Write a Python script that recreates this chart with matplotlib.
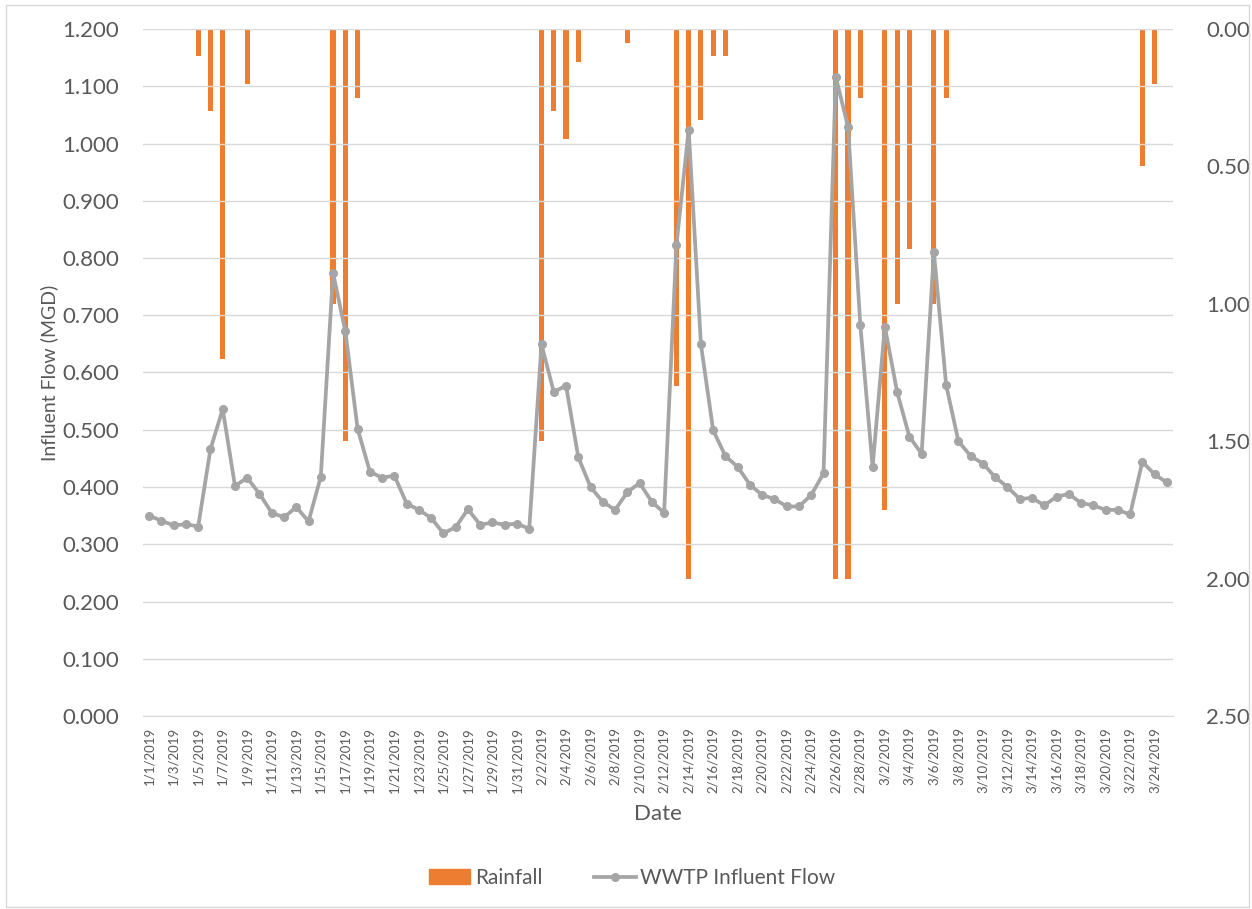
import matplotlib
matplotlib.use("Agg")
import matplotlib.pyplot as plt
import numpy as np
import pandas as pd
from matplotlib.patches import Rectangle
from matplotlib.lines import Line2D

plt.rcParams['font.family'] = ['Lato', 'DejaVu Sans']

dates = pd.date_range("2019-01-01", "2019-03-25", freq="D")
date_labels = [f"{d.month}/{d.day}/{d.year}" for d in dates]

flow = [0.350, 0.341, 0.333, 0.335, 0.331, 0.466, 0.536, 0.402, 0.416, 0.388,
        0.355, 0.347, 0.365, 0.340, 0.418, 0.774, 0.672, 0.502, 0.427, 0.416,
        0.420, 0.371, 0.360, 0.346, 0.319, 0.330, 0.361, 0.334, 0.338, 0.334,
        0.336,
        0.327, 0.649, 0.566, 0.577, 0.452, 0.400, 0.374, 0.360, 0.391, 0.407,
        0.374, 0.355, 0.822, 1.024, 0.649, 0.499, 0.454, 0.435, 0.404, 0.386,
        0.379, 0.366, 0.366, 0.386, 0.424, 1.116, 1.029, 0.683,
        0.435, 0.680, 0.566, 0.488, 0.458, 0.810, 0.578, 0.480, 0.454, 0.441,
        0.417, 0.400, 0.379, 0.381, 0.368, 0.383, 0.388, 0.372, 0.368, 0.360,
        0.360, 0.352, 0.444, 0.422, 0.408]

rain_days = {"1/5/2019": 0.10, "1/6/2019": 0.30, "1/7/2019": 1.20, "1/9/2019": 0.20,
             "1/16/2019": 1.00, "1/17/2019": 1.50, "1/18/2019": 0.25,
             "2/2/2019": 1.50, "2/3/2019": 0.30, "2/4/2019": 0.40, "2/5/2019": 0.12,
             "2/9/2019": 0.05, "2/13/2019": 1.30, "2/14/2019": 2.00, "2/15/2019": 0.33,
             "2/16/2019": 0.10, "2/17/2019": 0.10,
             "2/26/2019": 2.00, "2/27/2019": 2.00, "2/28/2019": 0.25,
             "3/2/2019": 1.75, "3/3/2019": 1.00, "3/4/2019": 0.80, "3/6/2019": 1.00,
             "3/7/2019": 0.25, "3/23/2019": 0.50, "3/24/2019": 0.20}
rainfall = [rain_days.get(lbl, 0.0) for lbl in date_labels]

ORANGE = "#ED7D31"
GRAY = "#A5A5A5"
TXT = "#595959"

fig = plt.figure(figsize=(12.52, 9.09), dpi=100)
ax = fig.add_axes([143/1252, 1 - 716/909, (1173-143)/1252, (716-29)/909])
ax2 = ax.twinx()

x = np.arange(len(dates))
ax2.bar(x, rainfall, width=0.42, color=ORANGE, zorder=2)
ax2.set_ylim(2.5, 0)
ax2.set_yticks(np.arange(0, 2.51, 0.5))
ax2.set_yticklabels([f"{v:.2f}" for v in np.arange(0, 2.51, 0.5)])

ax.plot(x, flow, color=GRAY, lw=2.7, marker='o', markersize=5.5, zorder=3)
ax.set_zorder(ax2.get_zorder() + 1)
ax.patch.set_visible(False)

ax.set_ylim(0, 1.2)
ax.set_yticks(np.arange(0, 1.2001, 0.1))
ax.set_yticklabels([f"{v:.3f}" for v in np.arange(0, 1.2001, 0.1)])
ax.set_xlim(-0.5, len(dates) - 0.5)
ax.set_xticks(x[::2])
ax.set_xticklabels(date_labels[::2], rotation=90, fontsize=9.5, color=TXT)

ax.yaxis.grid(True, color="#D9D9D9", lw=1)
ax.set_axisbelow(True)
for a in (ax, ax2):
    for s in a.spines.values():
        s.set_visible(False)
ax.spines['bottom'].set_visible(True)
ax.spines['bottom'].set_color("#D9D9D9")
ax.tick_params(axis='both', length=0)
ax2.tick_params(axis='both', length=0)
ax.tick_params(axis='y', labelsize=16, labelcolor=TXT, pad=17)
ax2.tick_params(axis='y', labelsize=16, labelcolor=TXT, pad=24)
ax.tick_params(axis='x', pad=8)

ax.set_ylabel("Influent Flow (MGD)", fontsize=14, color=TXT, labelpad=3)
ax.set_xlabel("Date", fontsize=16, color=TXT, labelpad=8)

handles = [Rectangle((0, 0), 1, 1, color=ORANGE),
           Line2D([], [], color=GRAY, lw=2.7, marker='o', markersize=5.5)]
fig.legend(handles, ["Rainfall", "WWTP Influent Flow"], loc='center',
           bbox_to_anchor=(632/1252, 1 - 878/909), ncol=2, frameon=False,
           fontsize=15, labelcolor=TXT, handlelength=2.0, handletextpad=0.2,
           columnspacing=2.5)

fig.patches.append(Rectangle((6/1252, 2/909), 1243/1252, 902/909, transform=fig.transFigure,
                             fill=False, edgecolor="#D9D9D9", lw=1))

fig.savefig("out.png", dpi=100)
